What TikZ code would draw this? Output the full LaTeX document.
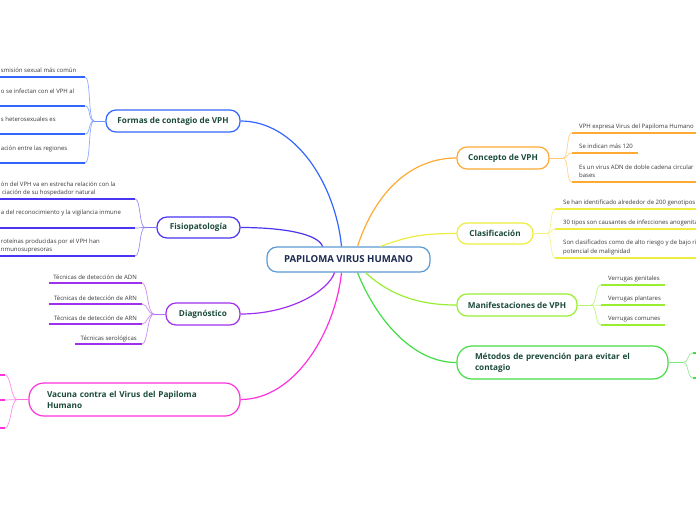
\documentclass[tikz,border=0pt]{standalone}
\usepackage{fontspec}
\setmainfont{Open Sans}
\definecolor{cblue}{HTML}{3366FF}
\definecolor{cviolet}{HTML}{4A35F0}
\definecolor{cpurple}{HTML}{A030F0}
\definecolor{cpink}{HTML}{FF30DD}
\definecolor{corange}{HTML}{FFAA33}
\definecolor{cyellow}{HTML}{EEEE40}
\definecolor{clime}{HTML}{99EE33}
\definecolor{cgreen}{HTML}{44DD44}
\definecolor{ccentral}{HTML}{5B9BD5}
\definecolor{labelc}{HTML}{1B4A3C}
\definecolor{titlec}{HTML}{1C2A50}
\definecolor{smallc}{HTML}{3A3A3A}
\begin{document}
\begin{tikzpicture}[x=1pt,y=-1pt,
  mainbox/.style={draw, fill=white, rounded corners=10pt, line width=1.2pt, text=labelc,
    font=\bfseries\fontsize{8.2}{11}\selectfont, inner sep=0pt},
  small/.style={font=\fontsize{6}{8}\selectfont, text=smallc, inner sep=0pt},
  uline/.style={line width=1.5pt},
  twig/.style={line width=0.7pt},
  stubline/.style={line width=1pt},
  trunk/.style={line width=1.2pt}]
\useasboundingbox (0,0) rectangle (696,520);
\fill[white] (0,0) rectangle (696,520);

% central
\node[draw=ccentral, fill=white, rounded corners=10pt, line width=1.2pt, minimum width=163pt,
  minimum height=25pt, text=titlec, font=\bfseries\fontsize{9.6}{11}\selectfont, inner sep=0pt]
  (central) at (348.5,259.5) {PAPILOMA VIRUS HUMANO};

% main topics
\node[mainbox, draw=cblue, minimum width=134pt, minimum height=22pt] (formas) at (173,121) {Formas de contagio de VPH};
\node[mainbox, draw=cviolet, minimum width=83pt, minimum height=21pt] (fisio) at (198.5,227.5) {Fisiopatología};
\node[mainbox, draw=cpurple, minimum width=74pt, minimum height=22pt] (diag) at (203,314) {Diagnóstico};
\node[mainbox, draw=cpink, rounded corners=15pt, minimum width=211pt, minimum height=33pt, text width=175pt, align=left, inner xsep=18pt] (vac) at (134.5,399.5) {Vacuna contra el Virus del Papiloma\\Humano};
\node[mainbox, draw=corange, minimum width=92pt, minimum height=22pt] (concepto) at (503,158) {Concepto de VPH};
\node[mainbox, draw=cyellow, minimum width=76pt, minimum height=21pt] (clas) at (495,233.5) {Clasificación};
\node[mainbox, draw=clime, minimum width=120pt, minimum height=22pt] (manif) at (517,305) {Manifestaciones de VPH};
\node[mainbox, draw=cgreen, rounded corners=15pt, minimum width=211pt, minimum height=33pt, text width=175pt, align=left, inner xsep=18pt] (metodos) at (562.5,362.5) {Métodos de prevención para evitar el\\contagio};

% trunks from the central node
\draw[trunk, cblue] (formas.east) .. controls +(55,0) and +(-6,-62) .. ([xshift=-7pt]central.north);
\draw[trunk, cviolet] (fisio.east) .. controls +(45,0) and +(-4,-12) .. ([xshift=-26pt]central.north);
\draw[trunk, cpurple] (diag.east) .. controls +(50,0) and +(-6,18) .. ([xshift=-14pt]central.south);
\draw[trunk, cpink] (vac.east) .. controls +(55,0) and +(-6,58) .. ([xshift=-7pt]central.south);
\draw[trunk, corange] ([xshift=9pt]central.north) .. controls +(18,-55) and +(-45,0) .. (concepto.west);
\draw[trunk, cyellow] ([xshift=32pt]central.north) .. controls +(30,-11) and +(-32,0) .. (clas.west);
\draw[trunk, clime] ([xshift=17pt]central.south) .. controls +(25,23) and +(-37,0) .. (manif.west);
\draw[trunk, cgreen] ([xshift=9pt]central.south) .. controls +(18,45) and +(-45,0) .. (metodos.west);

% ---------- Formas de contagio ----------
\coordinate (fF) at (94,121);
\draw[stubline, cblue!70] (formas.west) -- (fF);
\foreach \i/\yy in {1/77,2/106,3/134,4/163}{
  \coordinate (uF\i) at (85,\yy);
  \coordinate (uF\i b) at (-5,\yy);
  \draw[twig, cblue!55] (fF) .. controls +(-6,0) and +(6,0) .. (uF\i);
  \draw[uline, cblue] (uF\i) -- (uF\i b);
}
\node[small, anchor=base west] (tF1) at (0.8,72) {smisión sexual más común};
\node[small, anchor=base west] (tF2) at (0.8,93) {o se infectan con el VPH al};
\node[small, anchor=base west] (tF3) at (0.8,121) {s heterosexuales es};
\node[small, anchor=base west] (tF4) at (0.8,150) {ación entre las regiones};

% ---------- Fisiopatología ----------
\coordinate (fP) at (145,227.5);
\draw[stubline, cviolet!70] (fisio.west) -- (fP);
\foreach \i/\yy in {1/199,2/228,3/256}{
  \coordinate (uP\i) at (135,\yy);
  \coordinate (uP\i b) at (-5,\yy);
  \draw[twig, cviolet!55] (fP) .. controls +(-6,0) and +(6,0) .. (uP\i);
  \draw[uline, cviolet] (uP\i) -- (uP\i b);
}
\node[small, anchor=base west] (tP1a) at (0.8,186) {ón del VPH va en estrecha relación con la};
\node[small, anchor=base west] (tP1b) at (2,194) {ciación de su hospedador natural};
\node[small, anchor=base west] (tP2) at (0.8,214) {a del reconocimiento y la vigilancia inmune};
\node[small, anchor=base west] (tP3a) at (0.8,243) {roteínas producidas por el VPH han};
\node[small, anchor=base west] (tP3b) at (0.8,251) {nmunosupresoras};

% ---------- Diagnóstico ----------
\coordinate (fD) at (154,314);
\draw[stubline, cpurple!70] (diag.west) -- (fD);
\foreach \i/\yy/\xl in {1/283/49,2/304/49,3/324/49,4/344/75}{
  \coordinate (uD\i) at (142,\yy);
  \coordinate (uD\i b) at (\xl,\yy);
  \draw[twig, cpurple!55] (fD) .. controls +(-7,0) and +(6,0) .. (uD\i);
  \draw[uline, cpurple] (uD\i) -- (uD\i b);
}
\node[small, anchor=base east] (tD1) at (137,279) {Técnicas de detección de ADN};
\node[small, anchor=base east] (tD2) at (137,300) {Técnicas de detección de ARN};
\node[small, anchor=base east] (tD3) at (137,320) {Técnicas de detección de ARN};
\node[small, anchor=base east] (tD4) at (137,340) {Técnicas serológicas};

% ---------- Vacuna ----------
\coordinate (fV) at (17,399.5);
\draw[stubline, cpink!70] (vac.west) -- (fV);
\foreach \i/\yy in {1/375,2/400,3/428}{
  \coordinate (uV\i) at (5,\yy);
  \coordinate (uV\i b) at (-5,\yy);
  \draw[twig, cpink!55] (fV) .. controls +(-6,0) and +(6,0) .. (uV\i);
  \draw[uline, cpink] (uV\i) -- (uV\i b);
}

% ---------- Concepto de VPH ----------
\coordinate (fC) at (563,158);
\draw[stubline, corange!70] (concepto.east) -- (fC);
\foreach \i/\yy/\xr in {1/133/700,2/153/638,3/182/700}{
  \coordinate (uC\i) at (572,\yy);
  \coordinate (uC\i b) at (\xr,\yy);
  \draw[twig, corange!55] (fC) .. controls +(6,0) and +(-6,0) .. (uC\i);
  \draw[uline, corange] (uC\i) -- (uC\i b);
}
\node[small, anchor=base west] (tC1) at (579,128) {VPH expresa Virus del Papiloma Humano};
\node[small, anchor=base west] (tC2) at (579,148) {Se indican más 120};
\node[small, anchor=base west] (tC3a) at (579,169) {Es un virus ADN de doble cadena circular};
\node[small, anchor=base west] (tC3b) at (579,177) {bases};

% ---------- Clasificación ----------
\coordinate (fL) at (547,233.5);
\draw[stubline, cyellow!70] (clas.east) -- (fL);
\foreach \i/\yy in {1/209,2/229,3/258}{
  \coordinate (uL\i) at (555,\yy);
  \coordinate (uL\i b) at (700,\yy);
  \draw[twig, cyellow!60] (fL) .. controls +(5,0) and +(-5,0) .. (uL\i);
  \draw[uline, cyellow] (uL\i) -- (uL\i b);
}
\node[small, anchor=base west] (tL1) at (563,204) {Se han identificado alrededor de 200 genotipos};
\node[small, anchor=base west] (tL2) at (563,224) {30 tipos son causantes de infecciones anogenita};
\node[small, anchor=base west] (tL3a) at (563,244) {Son clasificados como de alto riesgo y de bajo ri};
\node[small, anchor=base west] (tL3b) at (563,253) {potencial de malignidad};

% ---------- Manifestaciones ----------
\coordinate (fM) at (591,305);
\draw[stubline, clime!70] (manif.east) -- (fM);
\foreach \i/\yy in {1/285,2/305,3/325}{
  \coordinate (uM\i) at (601,\yy);
  \coordinate (uM\i b) at (665,\yy);
  \draw[twig, clime!60] (fM) .. controls +(6,0) and +(-6,0) .. (uM\i);
  \draw[uline, clime] (uM\i) -- (uM\i b);
}
\node[small, anchor=base west] (tM1) at (608,280) {Verrugas genitales};
\node[small, anchor=base west] (tM2) at (608,300) {Verrugas plantares};
\node[small, anchor=base west] (tM3) at (608,320) {Verrugas comunes};

% ---------- Métodos ----------
\coordinate (fT) at (683,362.5);
\draw[stubline, cgreen!70] (metodos.east) -- (fT);
\foreach \i/\yy in {1/353,2/378}{
  \coordinate (uT\i) at (693,\yy);
  \coordinate (uT\i b) at (700,\yy);
  \draw[twig, cgreen!55] (fT) .. controls +(6,0) and +(-6,0) .. (uT\i);
  \draw[uline, cgreen] (uT\i) -- (uT\i b);
}
\end{tikzpicture}
\end{document}
